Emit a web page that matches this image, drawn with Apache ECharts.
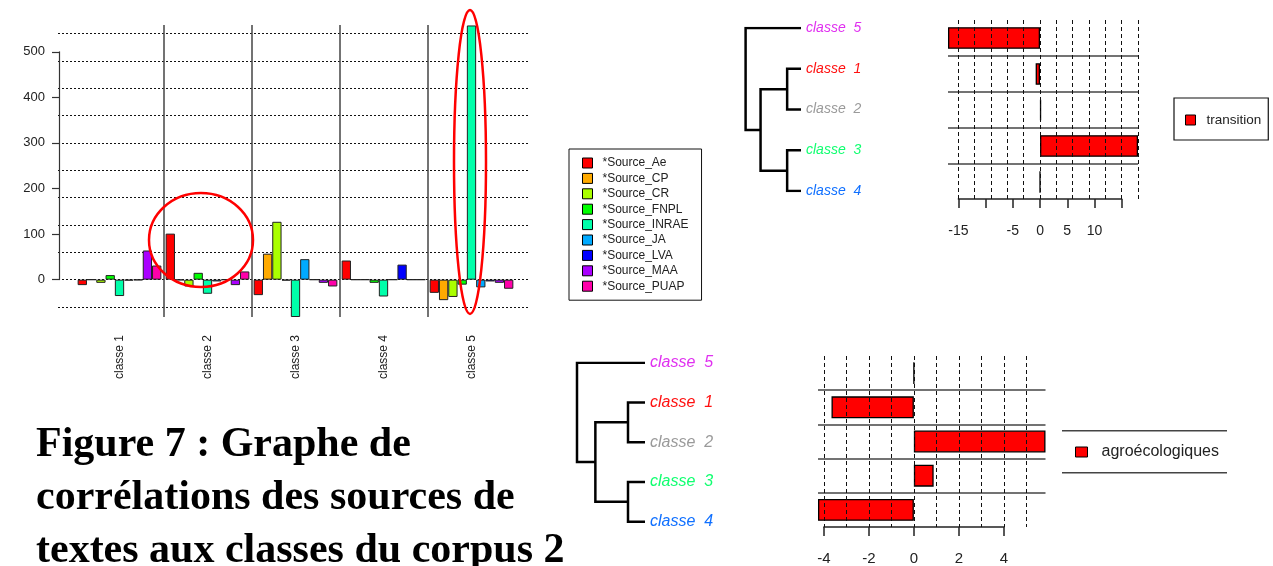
<!DOCTYPE html>
<html>
<head>
<meta charset="utf-8">
<script src="https://cdn.jsdelivr.net/npm/echarts@6/dist/echarts.min.js"></script>
<style>
html,body{margin:0;padding:0;background:#fff;}
#c{width:1273px;height:566px;}
</style>
</head>
<body>
<div id="c"></div>
<script>
// ---------- DATA ----------
const classes = ['classe 1', 'classe 2', 'classe 3', 'classe 4', 'classe 5'];
const sourceNames = ['*Source_Ae', '*Source_CP', '*Source_CR', '*Source_FNPL', '*Source_INRAE', '*Source_JA', '*Source_LVA', '*Source_MAA', '*Source_PUAP'];
const sourceColors = ['#FF0000', '#FFAA00', '#AAFF00', '#00FF00', '#00FFAA', '#00AAFF', '#0000FF', '#AA00FF', '#FF00AA'];
const srcAe    = [-12, 101, -34, 42, -29];
const srcCP    = [0, -1, 57, 0, -45];
const srcCR    = [-7, -15, 127, 0, -38];
const srcFNPL  = [10, 15, -2, -7, -11];
const srcINRAE = [-36, -31, -82, -37, 558];
const srcJA    = [-2, -4, 45, 0, -17];
const srcLVA   = [-1, 0, 0, 33, -4];
const srcMAA   = [64, -12, -7, 0, -7];
const srcPUAP  = [31, 18, -15, 0, -20];
const sourceValues = [srcAe, srcCP, srcCR, srcFNPL, srcINRAE, srcJA, srcLVA, srcMAA, srcPUAP];
const mainYTicks = [0, 100, 200, 300, 400, 500];
const mainGridLines = [-60, 0, 60, 120, 180, 240, 300, 360, 420, 480, 540];

// dendrogram (same tree in both panels), leaves top -> bottom
const leafLabels = ['classe  5', 'classe  1', 'classe  2', 'classe  3', 'classe  4'];
const leafColors = ['#E030F0', '#FF1010', '#9A9A9A', '#10FF70', '#1070FF'];
// merges: [child a, child b, height]; negative = leaf (1-based), positive = earlier merge (1-based)
const dendroMerges = [[-2, -3, 0.25], [-4, -5, 0.25], [1, 2, 0.73], [-1, 3, 1.0]];

const barCategories = ['classe 5', 'classe 1', 'classe 2', 'classe 3', 'classe 4'];
const transitionValues = [-16.9, -0.8, 0.2, 18.0, 0];
const transitionTickLabels = [-15, -5, 0, 5, 10];
const transitionGrid = [-15, -12, -9, -6, -3, 0, 3, 6, 9, 12, 15, 18];
const agroValues = [0, -3.66, 5.85, 0.88, -4.26];
const agroGrid = [-4, -3, -2, -1, 0, 1, 2, 3, 4, 5];

const titleLines = ['Figure 7 : Graphe de', 'corrélations des sources de', 'textes aux classes du corpus 2'];

// ---------- helpers ----------
function dendroSegments(merges) {
  const pos = [];
  const out = [];
  const node = id => id < 0 ? [0, -id - 1] : pos[id - 1];
  merges.forEach(m => {
    const a = node(m[0]), b = node(m[1]), h = m[2];
    out.push({ coords: [a, [h, a[1]], [h, b[1]], b] });
    pos.push([h, (a[1] + b[1]) / 2]);
  });
  return out;
}
const FONT = '"Liberation Sans", Arial, sans-serif';

const chart = echarts.init(document.getElementById('c'), null, { renderer: 'canvas' });

const mainSeries = sourceNames.map((n, i) => ({
  type: 'bar', name: n, xAxisIndex: 0, yAxisIndex: 0,
  data: sourceValues[i], barGap: '0%', barCategoryGap: '4.9%',
  itemStyle: { color: sourceColors[i], borderColor: '#222', borderWidth: 1 },
  animation: false, clip: false
}));

const option = {
  animation: false,
  backgroundColor: '#fff',
  textStyle: { fontFamily: FONT },
  grid: [
    { left: 75.5, top: 25, width: 440, height: 292 },      // 0 main bars
    { left: 58, top: 33.6, width: 470, height: 273.3 },    // 1 main gridlines
    { left: 59, top: 51.8, width: 10, height: 227.8 },     // 2 main y axis
    { left: 745.6, top: 28, width: 55.4, height: 163 },    // 3 top dendrogram
    { left: 948, top: 20, width: 190, height: 180 },       // 4 top bars
    { left: 958.4, top: 20, width: 163.3, height: 179 },   // 5 top axis
    { left: 577, top: 362.7, width: 68, height: 159 },     // 6 bottom dendrogram
    { left: 818, top: 356, width: 227.5, height: 171 },    // 7 bottom bars
    { left: 823.9, top: 356, width: 180, height: 171 }     // 8 bottom axis
  ],
  xAxis: [
    { gridIndex: 0, type: 'category', data: classes,
      axisLine: { show: false }, axisTick: { show: false },
      axisLabel: { rotate: 90, margin: 18, fontSize: 12, color: '#222', fontFamily: FONT } },
    { gridIndex: 0, type: 'value', min: 0, max: 5, interval: 1, position: 'top',
      axisLine: { show: false }, axisTick: { show: false }, axisLabel: { show: false },
      splitLine: { show: true, showMinLine: false, showMaxLine: false, lineStyle: { color: '#444', width: 1.5 } } },
    { gridIndex: 1, type: 'value', min: 0, max: 1, show: false },
    { gridIndex: 2, type: 'value', min: 0, max: 1, show: false },
    { gridIndex: 3, type: 'value', min: 0, max: 1, inverse: true, show: false },
    { gridIndex: 4, type: 'value', min: Math.min(...transitionValues), max: Math.max(...transitionValues), show: false },
    { gridIndex: 5, type: 'value', min: -15, max: 15, interval: 5,
      axisLine: { show: true, lineStyle: { color: '#222', width: 1.5 } },
      axisTick: { show: true, inside: false, length: 9, lineStyle: { color: '#222', width: 1.5 } },
      axisLabel: { margin: 25, fontSize: 14, color: '#222', fontFamily: FONT,
        formatter: v => transitionTickLabels.includes(v) ? String(v) : '' },
      splitLine: { show: false } },
    { gridIndex: 6, type: 'value', min: 0, max: 1, inverse: true, show: false },
    { gridIndex: 7, type: 'value', min: Math.min(...agroValues), max: Math.max(...agroValues), show: false },
    { gridIndex: 8, type: 'value', min: -4, max: 4, interval: 2,
      axisLine: { show: true, lineStyle: { color: '#222', width: 1.5 } },
      axisTick: { show: true, inside: false, length: 9, lineStyle: { color: '#222', width: 1.5 } },
      axisLabel: { margin: 24, fontSize: 15, color: '#222', fontFamily: FONT },
      splitLine: { show: false } }
  ],
  yAxis: [
    { gridIndex: 0, type: 'value', min: -82, max: 559, show: false },
    { gridIndex: 1, type: 'value', min: mainGridLines[0], max: mainGridLines[mainGridLines.length - 1], interval: 60,
      axisLine: { show: false }, axisTick: { show: false }, axisLabel: { show: false },
      splitLine: { show: true, lineStyle: { color: '#111', width: 1, type: [2, 2] } } },
    { gridIndex: 2, type: 'value', min: mainYTicks[0], max: mainYTicks[mainYTicks.length - 1], interval: 100,
      axisLine: { show: true, lineStyle: { color: '#333', width: 1.2 } },
      axisTick: { show: true, inside: false, length: 7, lineStyle: { color: '#333', width: 1.2 } },
      axisLabel: { margin: 14, fontSize: 13, color: '#222', fontFamily: FONT },
      splitLine: { show: false } },
    { gridIndex: 3, type: 'value', min: 0, max: 4, interval: 1, inverse: true, position: 'right',
      axisLine: { show: false }, axisTick: { show: false }, splitLine: { show: false },
      axisLabel: { margin: 5, fontSize: 14, fontStyle: 'italic', fontFamily: FONT, padding: [3, 0, 0, 0],
        formatter: v => leafLabels[v], color: (v) => leafColors[v] } },
    { gridIndex: 4, type: 'category', data: barCategories, inverse: true,
      axisLine: { show: false }, axisTick: { show: false }, axisLabel: { show: false },
      splitLine: { show: true, showMinLine: false, showMaxLine: false, lineStyle: { color: '#444', width: 1.5 } } },
    { gridIndex: 5, type: 'value', show: false },
    { gridIndex: 6, type: 'value', min: 0, max: 4, interval: 1, inverse: true, position: 'right',
      axisLine: { show: false }, axisTick: { show: false }, splitLine: { show: false },
      axisLabel: { margin: 5, fontSize: 16, fontStyle: 'italic', fontFamily: FONT,
        formatter: v => leafLabels[v], color: (v) => leafColors[v] } },
    { gridIndex: 7, type: 'category', data: barCategories, inverse: true,
      axisLine: { show: false }, axisTick: { show: false }, axisLabel: { show: false },
      splitLine: { show: true, showMinLine: false, showMaxLine: false, lineStyle: { color: '#444', width: 1.5 } } },
    { gridIndex: 8, type: 'value', show: false }
  ],
  legend: [
    { data: sourceNames, orient: 'vertical', left: 569, top: 149, selectedMode: false,
      icon: 'rect', itemWidth: 10, itemHeight: 10, itemGap: 1.4,
      itemStyle: { borderColor: '#000', borderWidth: 1 },
      borderColor: '#111', borderWidth: 1, padding: [7, 13, 7, 13],
      textStyle: { fontSize: 12, color: '#222', lineHeight: 14, fontFamily: FONT, padding: [0, 0, 0, 5] } },
    { data: ['transition'], orient: 'vertical', left: 1174, top: 98, selectedMode: false,
      icon: 'rect', itemWidth: 10, itemHeight: 10,
      itemStyle: { borderColor: '#000', borderWidth: 1 },
      borderColor: '#111', borderWidth: 1.2, padding: [14, 7, 12, 11],
      textStyle: { fontSize: 13.5, color: '#222', lineHeight: 16, fontFamily: FONT, padding: [0, 0, 0, 6] } },
    { data: ['agroécologiques'], orient: 'vertical', left: 1075, top: 443, selectedMode: false,
      icon: 'rect', itemWidth: 12, itemHeight: 10,
      itemStyle: { borderColor: '#000', borderWidth: 1 },
      padding: 0,
      textStyle: { fontSize: 16, color: '#222', lineHeight: 18, fontFamily: FONT, padding: [0, 0, 0, 9] } }
  ],
  series: mainSeries.concat([
    { type: 'lines', coordinateSystem: 'cartesian2d', xAxisIndex: 4, yAxisIndex: 3, polyline: true,
      silent: true, data: dendroSegments(dendroMerges),
      lineStyle: { color: '#000', width: 2.5, opacity: 1, curveness: 0 } },
    { type: 'bar', name: 'transition', xAxisIndex: 5, yAxisIndex: 4, data: transitionValues,
      barCategoryGap: '40%', clip: false,
      itemStyle: { color: '#FF0000', borderColor: '#000', borderWidth: 1.3 },
      markLine: { silent: true, symbol: 'none', label: { show: false },
        lineStyle: { color: '#111', width: 1, type: [4, 3] },
        data: transitionGrid.map(v => ({ xAxis: v })) } },
    { type: 'lines', coordinateSystem: 'cartesian2d', xAxisIndex: 7, yAxisIndex: 6, polyline: true,
      silent: true, data: dendroSegments(dendroMerges),
      lineStyle: { color: '#000', width: 2.5, opacity: 1, curveness: 0 } },
    { type: 'bar', name: 'agroécologiques', xAxisIndex: 8, yAxisIndex: 7, data: agroValues,
      barCategoryGap: '36%', clip: false,
      itemStyle: { color: '#FF0000', borderColor: '#000', borderWidth: 1.3 },
      markLine: { silent: true, symbol: 'none', label: { show: false },
        lineStyle: { color: '#111', width: 1, type: [4, 3] },
        data: agroGrid.map(v => ({ xAxis: v })) } }
  ]),
  graphic: [
    { type: 'ellipse', shape: { cx: 201, cy: 240, rx: 52, ry: 47 }, style: { fill: 'none', stroke: '#FF0000', lineWidth: 2.5 }, z: 100 },
    { type: 'ellipse', shape: { cx: 470, cy: 162, rx: 16, ry: 152 }, style: { fill: 'none', stroke: '#FF0000', lineWidth: 2.5 }, z: 100 },
    { type: 'line', shape: { x1: 1062, y1: 430.7, x2: 1227, y2: 430.7 }, style: { stroke: '#444', lineWidth: 1.5 } },
    { type: 'line', shape: { x1: 1062, y1: 472.7, x2: 1227, y2: 472.7 }, style: { stroke: '#444', lineWidth: 1.5 } }
  ].concat(titleLines.map((t, i) => ({
    type: 'text', left: 36, top: 424 + i * 53,
    style: { text: t, font: 'bold 42px "Liberation Serif", "Times New Roman", serif', fill: '#000' }
  })))
};
chart.setOption(option);
</script>
</body>
</html>
